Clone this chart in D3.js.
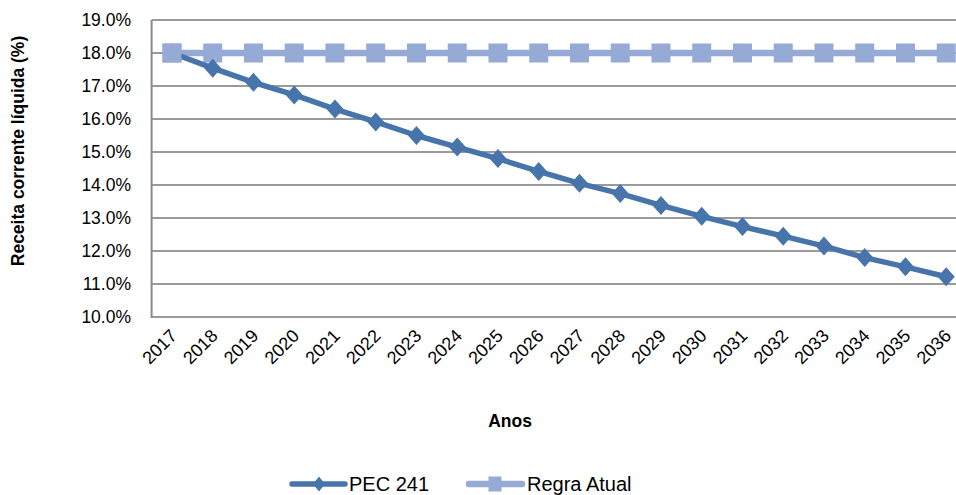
<!DOCTYPE html>
<html>
<head>
<meta charset="utf-8">
<script src="https://cdn.jsdelivr.net/npm/d3@7"></script>
<style>
  html, body { margin: 0; padding: 0; background: #fff; }
  svg { display: block; }
  text { font-family: "Liberation Sans", Arial, sans-serif; fill: #000; }
</style>
</head>
<body>
<svg id="chart" width="956" height="495"></svg>
<script>
const years = ["2017","2018","2019","2020","2021","2022","2023","2024","2025","2026",
               "2027","2028","2029","2030","2031","2032","2033","2034","2035","2036"];
const pec241 = [18.0,17.54,17.11,16.73,16.30,15.91,15.50,15.15,14.80,14.41,
                14.05,13.74,13.38,13.05,12.74,12.45,12.15,11.80,11.52,11.22];
const regraAtual = [18.0,18.0,18.0,18.0,18.0,18.0,18.0,18.0,18.0,18.0,
                    18.0,18.0,18.0,18.0,18.0,18.0,18.0,18.0,18.0,18.0];
const yTicks = [10,11,12,13,14,15,16,17,18,19];
const seriesNames = ["PEC 241", "Regra Atual"];

const colPec = "#4674AB";
const colRegra = "#95AAD4";
const gridCol = "#9a9a9a";

const svg = d3.select("#chart");
const x = d3.scalePoint().domain(years).range([151.6, 966.6]).padding(0.5);
const y = d3.scaleLinear().domain([10, 19]).range([317, 20]);

// gridlines
svg.append("g").selectAll("line").data(yTicks).join("line")
  .attr("x1", 151.6).attr("x2", 966)
  .attr("y1", d => y(d)).attr("y2", d => y(d))
  .attr("stroke", gridCol).attr("stroke-width", 2);

// left axis line
svg.append("line").attr("x1", 151.6).attr("x2", 151.6)
  .attr("y1", y(19)).attr("y2", y(10) + 1)
  .attr("stroke", "#8a8a8a").attr("stroke-width", 2);

// y tick labels
svg.append("g").selectAll("text").data(yTicks).join("text")
  .attr("x", 131).attr("y", d => y(d)).attr("dy", "0.36em")
  .attr("text-anchor", "end").style("font-size", "17.5px")
  .text(d => d3.format(".1f")(d) + "%");

// x tick labels
svg.append("g").selectAll("text").data(years).join("text")
  .attr("text-anchor", "end").style("font-size", "18px")
  .attr("transform", d => `translate(${x(d) + 6},${337}) rotate(-45)`)
  .text(d => d);

// axis titles
svg.append("text").attr("transform", "translate(24,151) rotate(-90)")
  .attr("text-anchor", "middle").style("font-size", "17.5px").style("font-weight", "bold")
  .text("Receita corrente líquida (%)");
svg.append("text").attr("x", 510).attr("y", 427)
  .attr("text-anchor", "middle").style("font-size", "17.5px").style("font-weight", "bold")
  .text("Anos");

const line = d3.line().x((d, i) => x(years[i])).y(d => y(d));
const diamond = (w, h) => `M0,${-h/2}L${w/2},0L0,${h/2}L${-w/2},0Z`;

// Regra Atual
svg.append("path").datum(regraAtual).attr("d", line)
  .attr("fill", "none").attr("stroke", colRegra).attr("stroke-width", 6.5);
svg.append("g").selectAll("rect").data(regraAtual).join("rect")
  .attr("x", (d, i) => x(years[i]) - 9.5).attr("y", d => y(d) - 9.5)
  .attr("width", 19).attr("height", 19).attr("fill", colRegra);

// PEC 241
svg.append("path").datum(pec241).attr("d", line)
  .attr("fill", "none").attr("stroke", colPec).attr("stroke-width", 5.5)
  .attr("stroke-linejoin", "round");
svg.append("g").selectAll("path").data(pec241).join("path")
  .attr("transform", (d, i) => `translate(${x(years[i])},${y(d)})`)
  .attr("d", diamond(17, 19)).attr("fill", colPec);

// redraw first Regra square over the PEC start (as in the original)
svg.append("rect")
  .attr("x", x(years[0]) - 9.5).attr("y", y(regraAtual[0]) - 9.5)
  .attr("width", 19).attr("height", 19).attr("fill", colRegra);

// legend
const lg = svg.append("g");
lg.append("line").attr("x1", 292).attr("x2", 345).attr("y1", 484).attr("y2", 484)
  .attr("stroke", colPec).attr("stroke-width", 5.5).attr("stroke-linecap", "round");
lg.append("path").attr("transform", "translate(319,484)").attr("d", diamond(12, 15)).attr("fill", colPec);
lg.append("text").attr("x", 349).attr("y", 491).style("font-size", "20px").text(seriesNames[0]);

lg.append("line").attr("x1", 469).attr("x2", 522).attr("y1", 484).attr("y2", 484)
  .attr("stroke", colRegra).attr("stroke-width", 6.5).attr("stroke-linecap", "round");
lg.append("rect").attr("x", 488.5).attr("y", 476.5).attr("width", 13).attr("height", 15).attr("fill", colRegra);
lg.append("text").attr("x", 527).attr("y", 491).style("font-size", "20px").text(seriesNames[1]);
</script>
</body>
</html>
